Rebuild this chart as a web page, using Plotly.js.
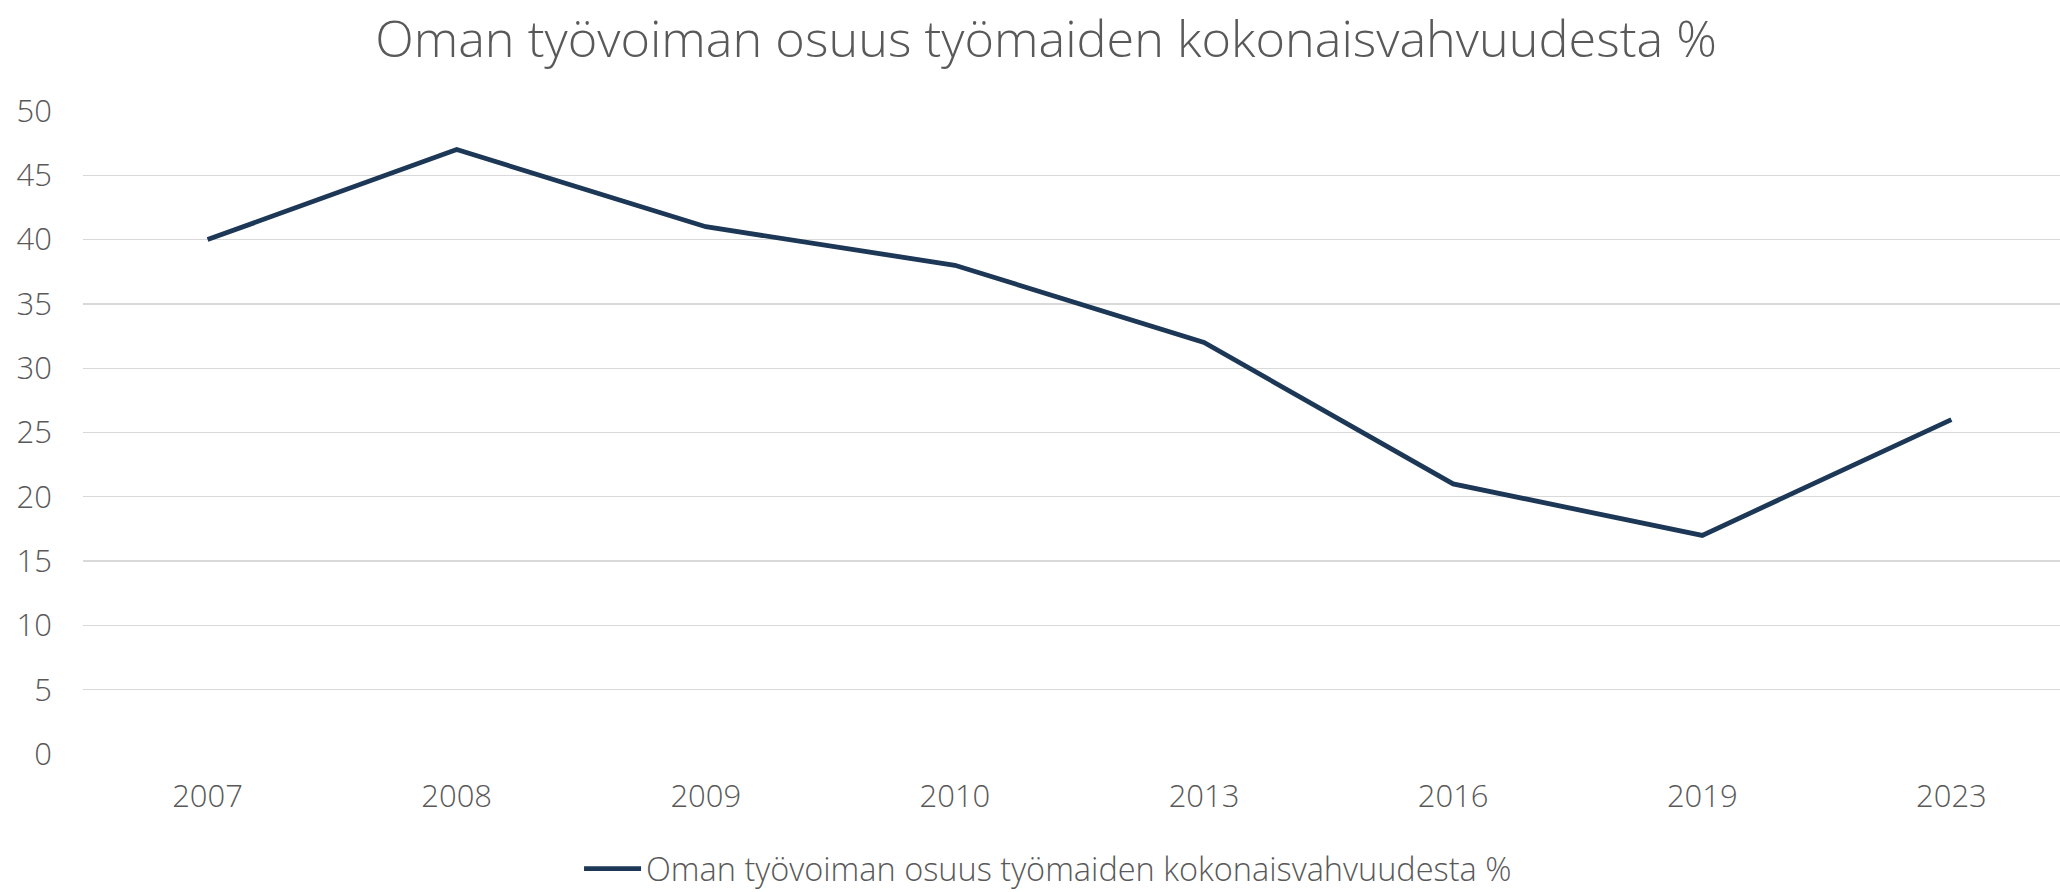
<!DOCTYPE html>
<html>
<head>
<meta charset="utf-8">
<script src="https://cdn.plot.ly/plotly-3.0.1.min.js"></script>
<style>
html, body { margin: 0; padding: 0; background: #ffffff; }
#chart { width: 2060px; height: 892px; }
</style>
</head>
<body>
<div id="chart"></div>
<script>
const years = ['2007', '2008', '2009', '2010', '2013', '2016', '2019', '2023'];
const shares = [40, 47, 41, 38, 32, 21, 17, 26];
const yTicks = [0, 5, 10, 15, 20, 25, 30, 35, 40, 45, 50];
const seriesName = 'Oman työvoiman osuus työmaiden kokonaisvahvuudesta %';
const chartTitle = 'Oman työvoiman osuus työmaiden kokonaisvahvuudesta %';

const textColor = '#595959';
const fontFamily = '"Open Sans", Lato, "Noto Sans", sans-serif';

const trace = {
  x: years,
  y: shares,
  type: 'scatter',
  mode: 'lines',
  name: seriesName,
  line: { color: '#1d3857', width: 4.8 },
  hoverinfo: 'x+y'
};

const layout = {
  width: 2060,
  height: 892,
  margin: { l: 83, r: 0, t: 111, b: 138, autoexpand: false },
  paper_bgcolor: '#ffffff',
  plot_bgcolor: '#ffffff',
  font: { family: fontFamily, color: textColor, size: 31, weight: 300 },
  title: {
    text: chartTitle,
    font: { family: fontFamily, color: textColor, size: 50.4, weight: 300 },
    x: 0.5078,
    xanchor: 'center',
    xref: 'container',
    y: 0.9563,
    yanchor: 'middle',
    yref: 'container'
  },
  xaxis: {
    type: 'category',
    range: [-0.5, 7.436],
    showgrid: false,
    zeroline: false,
    showline: false,
    ticks: '',
    automargin: false,
    ticklabelstandoff: 21,
    tickfont: { family: fontFamily, color: textColor, size: 31, weight: 300 },
    fixedrange: true
  },
  yaxis: {
    range: [0, 50],
    tickvals: yTicks,
    ticktext: yTicks.map(String),
    showgrid: true,
    gridcolor: '#d9d9d9',
    gridwidth: 1.4,
    zeroline: false,
    showline: false,
    ticks: '',
    automargin: false,
    ticklabelstandoff: 30,
    tickfont: { family: fontFamily, color: textColor, size: 31, weight: 300 },
    fixedrange: true
  },
  showlegend: true,
  legend: {
    orientation: 'h',
    x: 0.2509,
    xanchor: 'left',
    y: -0.1788,
    yanchor: 'middle',
    itemwidth: 57,
    font: { family: fontFamily, color: textColor, size: 32.5, weight: 300 },
    bgcolor: 'rgba(0,0,0,0)'
  }
};

Plotly.newPlot('chart', [trace], layout, { displayModeBar: false, staticPlot: true });
</script>
</body>
</html>
